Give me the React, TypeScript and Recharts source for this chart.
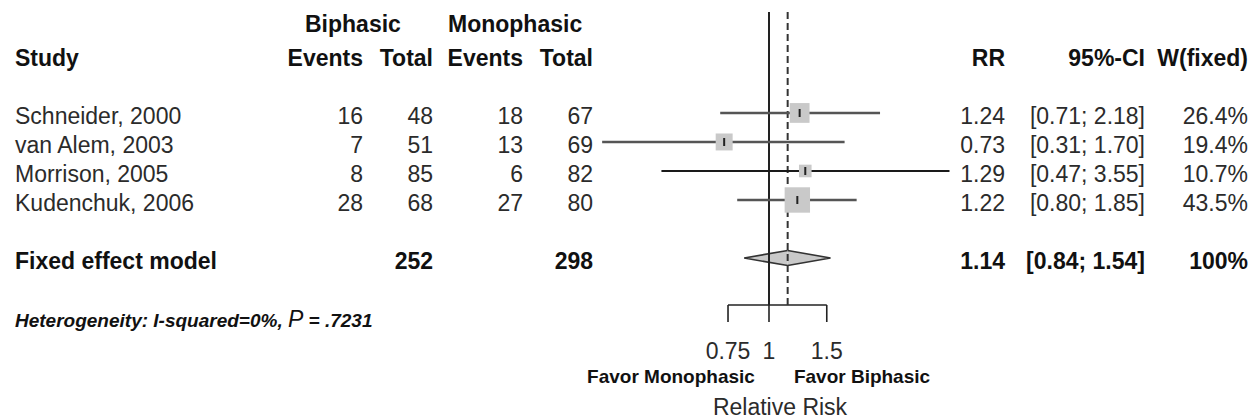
import React from 'react';
import { ComposedChart, XAxis, YAxis, Scatter, ReferenceLine, ReferenceArea } from 'recharts';

// ---------------------------------------------------------------------------
// Data
// ---------------------------------------------------------------------------

const STUDIES = ['Schneider, 2000', 'van Alem, 2003', 'Morrison, 2005', 'Kudenchuk, 2006'];
const BI_EVENTS = [16, 7, 8, 28];
const BI_TOTAL = [48, 51, 85, 68];
const MONO_EVENTS = [18, 13, 6, 27];
const MONO_TOTAL = [67, 69, 82, 80];
const RR = [1.24, 0.73, 1.29, 1.22];
const CI_LOW = [0.71, 0.31, 0.47, 0.8];
const CI_HIGH = [2.18, 1.7, 3.55, 1.85];
const WEIGHTS = [26.4, 19.4, 10.7, 43.5];

const POOLED_LABEL = 'Fixed effect model';
const POOLED_BI_TOTAL = 252;
const POOLED_MONO_TOTAL = 298;
const POOLED_RR = 1.14;
const POOLED_LOW = 0.84;
const POOLED_HIGH = 1.54;
const POOLED_WEIGHT = '100%';

const X_TICKS = [0.75, 1, 1.5];

// ---------------------------------------------------------------------------
// Layout
// ---------------------------------------------------------------------------

const W = 1257;
const H = 420;
const PLOT_TOP = 12;
const PLOT_BOTTOM = 305;
const X_DOMAIN: [number, number] = [0.25, 4];
const Y_DOMAIN: [number, number] = [-3.48, 6.62];
const POOLED_ROW = 5;
const DIAMOND_HALF = 0.26;

const FONT = '"Liberation Sans", Arial, Helvetica, sans-serif';
const TEXT = '#2b2b2b';
const BOLD = '#111';

const rowY = (r: number) =>
  PLOT_TOP + ((r - Y_DOMAIN[0]) / (Y_DOMAIN[1] - Y_DOMAIN[0])) * (PLOT_BOTTOM - PLOT_TOP);

const points = STUDIES.map((name, i) => ({ x: RR[i], y: i, w: WEIGHTS[i], name }));

// ---------------------------------------------------------------------------
// Shapes
// ---------------------------------------------------------------------------

const WeightSquare = (props: any) => {
  const { cx, cy, payload } = props;
  const s = 3.85 * Math.sqrt(payload.w);
  return (
    <g>
      <rect x={cx - s / 2} y={cy - s / 2} width={s} height={s} fill="#c9c9c9" />
      <line x1={cx} x2={cx} y1={cy - 4} y2={cy + 4} stroke="#222" strokeWidth={2} />
    </g>
  );
};

const DiamondLeft = (props: any) => {
  const { x, y, width, height } = props;
  const mid = y + height / 2;
  return (
    <g>
      <polygon points={`${x},${mid} ${x + width},${y} ${x + width},${y + height}`} fill="#c9c9c9" />
      <polyline points={`${x + width},${y} ${x},${mid} ${x + width},${y + height}`} fill="none" stroke="#333" strokeWidth={1.6} />
    </g>
  );
};

const DiamondRight = (props: any) => {
  const { x, y, width, height } = props;
  const mid = y + height / 2;
  return (
    <g>
      <polygon points={`${x},${y} ${x + width},${mid} ${x},${y + height}`} fill="#c9c9c9" />
      <polyline points={`${x},${y} ${x + width},${mid} ${x},${y + height}`} fill="none" stroke="#333" strokeWidth={1.6} />
    </g>
  );
};

// ---------------------------------------------------------------------------
// Table text
// ---------------------------------------------------------------------------

const T: React.FC<{ x: number; y: number; anchor?: 'start' | 'middle' | 'end'; bold?: boolean; size?: number; children: React.ReactNode }> = ({
  x, y, anchor = 'start', bold = false, size = 23, children,
}) => (
  <text
    x={x}
    y={y}
    textAnchor={anchor}
    fontFamily={FONT}
    fontSize={size}
    fontWeight={bold ? 700 : 400}
    fill={bold ? BOLD : TEXT}
  >
    {children}
  </text>
);

const fmt2 = (v: number) => v.toFixed(2);

const TableText = () => {
  const base = (r: number) => rowY(r) + 11;
  return (
    <svg width={W} height={H} style={{ position: 'absolute', left: 0, top: 0, pointerEvents: 'none' }}>
      {/* headers */}
      <T x={305} y={32} bold>Biphasic</T>
      <T x={448} y={32} bold>Monophasic</T>
      <T x={15} y={66} bold>Study</T>
      <T x={363} y={66} anchor="end" bold>Events</T>
      <T x={433} y={66} anchor="end" bold>Total</T>
      <T x={523} y={66} anchor="end" bold>Events</T>
      <T x={593} y={66} anchor="end" bold>Total</T>
      <T x={1005} y={66} anchor="end" bold>RR</T>
      <T x={1145} y={66} anchor="end" bold>95%-CI</T>
      <T x={1248} y={66} anchor="end" bold>W(fixed)</T>

      {/* studies */}
      {STUDIES.map((name, i) => (
        <g key={name}>
          <T x={15} y={base(i)}>{name}</T>
          <T x={363} y={base(i)} anchor="end">{BI_EVENTS[i]}</T>
          <T x={433} y={base(i)} anchor="end">{BI_TOTAL[i]}</T>
          <T x={523} y={base(i)} anchor="end">{MONO_EVENTS[i]}</T>
          <T x={593} y={base(i)} anchor="end">{MONO_TOTAL[i]}</T>
          <T x={1005} y={base(i)} anchor="end">{fmt2(RR[i])}</T>
          <T x={1145} y={base(i)} anchor="end">{`[${fmt2(CI_LOW[i])}; ${fmt2(CI_HIGH[i])}]`}</T>
          <T x={1248} y={base(i)} anchor="end">{`${WEIGHTS[i].toFixed(1)}%`}</T>
        </g>
      ))}

      {/* pooled */}
      <T x={15} y={base(POOLED_ROW)} bold>{POOLED_LABEL}</T>
      <T x={433} y={base(POOLED_ROW)} anchor="end" bold>{POOLED_BI_TOTAL}</T>
      <T x={593} y={base(POOLED_ROW)} anchor="end" bold>{POOLED_MONO_TOTAL}</T>
      <T x={1005} y={base(POOLED_ROW)} anchor="end" bold>{fmt2(POOLED_RR)}</T>
      <T x={1145} y={base(POOLED_ROW)} anchor="end" bold>{`[${fmt2(POOLED_LOW)}; ${fmt2(POOLED_HIGH)}]`}</T>
      <T x={1248} y={base(POOLED_ROW)} anchor="end" bold>{POOLED_WEIGHT}</T>

      {/* heterogeneity */}
      <text x={15} y={327} fontFamily={FONT} fontSize={19} fontWeight={700} fontStyle="italic" fill={BOLD}>
        Heterogeneity: I-squared=0%, <tspan fontWeight={400} fontSize={23}>P</tspan> = .7231
      </text>

      {/* axis captions */}
      <T x={671} y={383} anchor="middle" bold size={19}>Favor Monophasic</T>
      <T x={862} y={383} anchor="middle" bold size={19}>Favor Biphasic</T>
      <T x={780} y={415} anchor="middle">Relative Risk</T>
    </svg>
  );
};

// ---------------------------------------------------------------------------
// Main component
// ---------------------------------------------------------------------------

const App: React.FC = () => (
  <div style={{ position: 'absolute', left: 0, top: 0, width: W, height: H, background: '#fff' }}>
    <ComposedChart width={W} height={H} margin={{ top: PLOT_TOP, right: 290.5, bottom: 55, left: 571.5 }}>
      <XAxis
        dataKey="x"
        type="number"
        scale="log"
        domain={X_DOMAIN}
        allowDataOverflow
        ticks={X_TICKS}
        tickFormatter={(v) => String(v)}
        axisLine={false}
        tickLine={{ stroke: '#222', strokeWidth: 1.6 }}
        tickSize={17}
        tickMargin={21}
        height={60}
        interval={0}
        tick={{ fontSize: 23, fill: TEXT, fontFamily: FONT }}
      />
      <YAxis dataKey="y" type="number" domain={Y_DOMAIN} reversed hide allowDataOverflow />

      {/* axis bracket */}
      <ReferenceLine
        segment={[{ x: X_TICKS[0], y: Y_DOMAIN[1] }, { x: X_TICKS[X_TICKS.length - 1], y: Y_DOMAIN[1] }]}
        stroke="#222"
        strokeWidth={1.6}
      />
      {/* no-effect line and pooled estimate */}
      <ReferenceLine x={1} stroke="#222" strokeWidth={2} />
      <ReferenceLine x={POOLED_RR} stroke="#333" strokeWidth={2} strokeDasharray="7 4" />

      {/* confidence intervals */}
      {STUDIES.map((name, i) => (
        <ReferenceLine
          key={name}
          segment={[{ x: CI_LOW[i], y: i }, { x: CI_HIGH[i], y: i }]}
          stroke={i === 2 ? '#1a1a1a' : '#555'}
          strokeWidth={i === 2 ? 2 : 2.6}
        />
      ))}

      {/* pooled diamond */}
      <ReferenceArea
        x1={POOLED_LOW}
        x2={POOLED_RR}
        y1={POOLED_ROW - DIAMOND_HALF}
        y2={POOLED_ROW + DIAMOND_HALF}
        shape={DiamondLeft}
      />
      <ReferenceArea
        x1={POOLED_RR}
        x2={POOLED_HIGH}
        y1={POOLED_ROW - DIAMOND_HALF}
        y2={POOLED_ROW + DIAMOND_HALF}
        shape={DiamondRight}
      />

      <Scatter data={points} shape={WeightSquare} isAnimationActive={false} />
    </ComposedChart>
    <TableText />
  </div>
);

export default App;
